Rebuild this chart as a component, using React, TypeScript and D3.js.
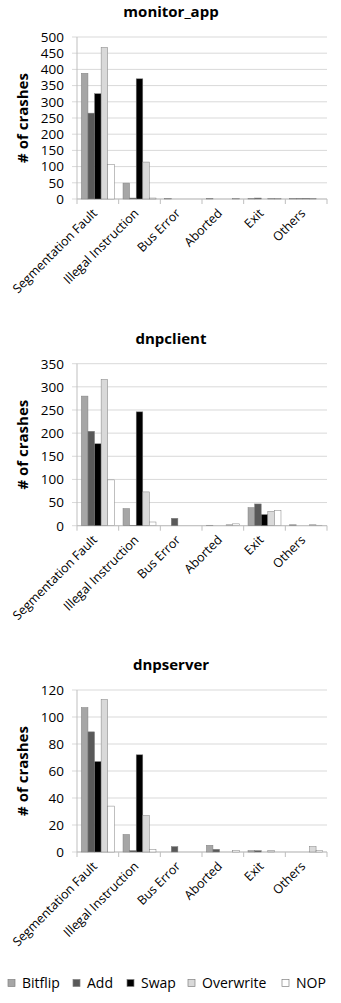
import React from "react";
import * as d3 from "d3";

const categories = ["Segmentation Fault", "Illegal Instruction", "Bus Error", "Aborted", "Exit", "Others"];
const series = ["Bitflip", "Add", "Swap", "Overwrite", "NOP"];
const seriesColors = ["#a6a6a6", "#595959", "#000000", "#d9d9d9", "#ffffff"];

// values per series, in category order
const monitorBitflip = [388, 49, 1, 2, 1, 1];
const monitorAdd = [265, 3, 0, 0, 3, 1];
const monitorSwap = [325, 371, 0, 0, 0, 1];
const monitorOverwrite = [468, 114, 0, 0, 2, 2];
const monitorNop = [106, 3, 0, 1, 2, 0];

const clientBitflip = [280, 37, 0, 1, 39, 2];
const clientAdd = [204, 1, 16, 0, 47, 0];
const clientSwap = [177, 246, 0, 0, 24, 0];
const clientOverwrite = [316, 73, 0, 2, 31, 2];
const clientNop = [99, 8, 0, 4, 33, 1];

const serverBitflip = [107, 13, 0, 5, 1, 0];
const serverAdd = [89, 1, 4, 2, 1, 0];
const serverSwap = [67, 72, 0, 0, 0, 0];
const serverOverwrite = [113, 27, 0, 0, 1, 4];
const serverNop = [34, 2, 0, 1, 0, 1];

const monitorTicks = [0, 50, 100, 150, 200, 250, 300, 350, 400, 450, 500];
const clientTicks = [0, 50, 100, 150, 200, 250, 300, 350];
const serverTicks = [0, 20, 40, 60, 80, 100, 120];

const panels = [
  { title: "monitor_app", data: [monitorBitflip, monitorAdd, monitorSwap, monitorOverwrite, monitorNop], ticks: monitorTicks },
  { title: "dnpclient", data: [clientBitflip, clientAdd, clientSwap, clientOverwrite, clientNop], ticks: clientTicks },
  { title: "dnpserver", data: [serverBitflip, serverAdd, serverSwap, serverOverwrite, serverNop], ticks: serverTicks },
];

const FONT = "'Open Sans', sans-serif";
const W = 341;
const H = 1003;
const plotLeft = 77;
const plotRight = 327;
const plotH = 162;
const panelTops = [37, 363.7, 690];

function Panel({ p, top }: { p: typeof panels[number]; top: number }) {
  const x0 = d3.scaleBand<string>().domain(categories).range([plotLeft, plotRight]).padding(0);
  const x1 = d3.scaleBand<string>().domain(series).range([0, x0.bandwidth()]).paddingInner(0).paddingOuter(0.66);
  const maxT = p.ticks[p.ticks.length - 1];
  const y = d3.scaleLinear().domain([0, maxT]).range([top + plotH, top]);
  const bottom = top + plotH;
  const boundaries = d3.range(categories.length + 1).map((i) => plotLeft + i * x0.step());
  return (
    <g>
      <text x={171} y={top - 20} textAnchor="middle" fontFamily={FONT} fontWeight="bold" fontSize={15} fill="#000">
        {p.title}
      </text>
      {p.ticks.map((t) => (
        <g key={t}>
          <line x1={plotLeft - 5} x2={plotRight} y1={y(t)} y2={y(t)} stroke="#d9d9d9" strokeWidth={1} />
          <text x={plotLeft - 13} y={y(t)} dy="0.36em" textAnchor="end" fontFamily={FONT} fontSize={13.5} fill="#000">
            {t}
          </text>
        </g>
      ))}
      <line x1={plotLeft} x2={plotLeft} y1={top} y2={bottom} stroke="#bfbfbf" />
      <line x1={plotLeft} x2={plotRight} y1={bottom} y2={bottom} stroke="#bfbfbf" />
      {boundaries.map((bx, i) => (
        <line key={i} x1={bx} x2={bx} y1={bottom} y2={bottom + 5} stroke="#bfbfbf" />
      ))}
      {series.map((s, si) =>
        categories.map((c, ci) => {
          const v = p.data[si][ci];
          if (v <= 0) return null;
          const bx = (x0(c) as number) + (x1(s) as number);
          return (
            <rect
              key={s + c}
              x={bx}
              y={y(v)}
              width={x1.bandwidth()}
              height={bottom - y(v)}
              fill={seriesColors[si]}
              stroke="#808080"
              strokeWidth={0.5}
            />
          );
        })
      )}
      {categories.map((c) => {
        const cx = (x0(c) as number) + x0.bandwidth() / 2;
        const cy = bottom + 15;
        return (
          <text
            key={c}
            transform={`translate(${cx},${cy}) rotate(-45)`}
            textAnchor="end"
            fontFamily={FONT}
            fontSize={12.5}
            fill="#000"
          >
            {c}
          </text>
        );
      })}
      <text
        transform={`translate(28,${top + plotH / 2}) rotate(-90)`}
        textAnchor="middle"
        fontFamily={FONT}
        fontWeight="bold"
        fontSize={15}
        fill="#000"
      >
        # of crashes
      </text>
    </g>
  );
}

const legendX = [8, 73, 127, 188, 282];

export default function App() {
  return (
    <svg width={W} height={H} style={{ position: "absolute", left: 0, top: 0, background: "#fff" }}>
      <rect width={W} height={H} fill="#fff" />
      {panels.map((p, i) => (
        <Panel key={p.title} p={p} top={panelTops[i]} />
      ))}
      {series.map((s, i) => (
        <g key={s}>
          <rect x={legendX[i]} y={979.5} width={7} height={7} fill={seriesColors[i]} stroke="#808080" strokeWidth={0.7} />
          <text x={legendX[i] + 14} y={983} dy="0.36em" fontFamily={FONT} fontSize={14} fill="#000">
            {s}
          </text>
        </g>
      ))}
    </svg>
  );
}
